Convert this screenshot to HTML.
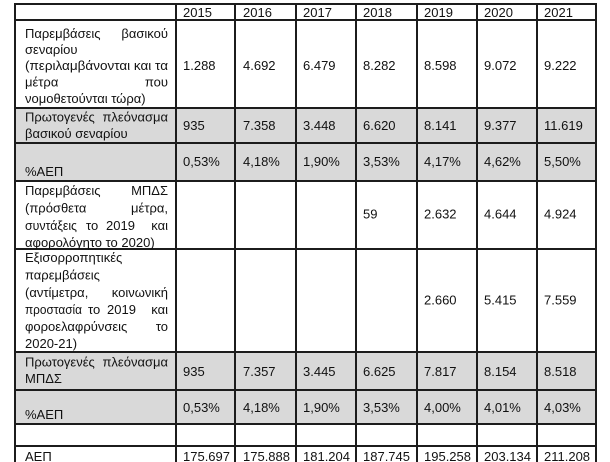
<!DOCTYPE html>
<html>
<head>
<meta charset="utf-8">
<style>
html,body{margin:0;padding:0;background:#fff;}
svg{display:block;}
text{font-family:"Liberation Sans","DejaVu Sans",sans-serif;font-size:13px;fill:#111;}
</style>
</head>
<body>
<svg width="610" height="462" viewBox="0 0 610 462" xmlns="http://www.w3.org/2000/svg">
<rect x="0" y="0" width="610" height="462" fill="#fff"/>
<!-- gray rows -->
<rect x="15" y="108" width="581" height="73" fill="#d9d9d9"/>
<rect x="15" y="352" width="581" height="72" fill="#d9d9d9"/>

<g stroke="#1c1c1c" stroke-width="2">
<line x1="15" y1="4" x2="596" y2="4"/>
<line x1="15" y1="20" x2="596" y2="20"/>
<line x1="15" y1="108" x2="596" y2="108"/>
<line x1="15" y1="143" x2="596" y2="143"/>
<line x1="15" y1="181" x2="596" y2="181"/>
<line x1="15" y1="249" x2="596" y2="249"/>
<line x1="15" y1="352" x2="596" y2="352"/>
<line x1="15" y1="390" x2="596" y2="390"/>
<line x1="15" y1="424" x2="596" y2="424"/>
<line x1="15" y1="446" x2="596" y2="446"/>
<line x1="15" y1="3" x2="15" y2="462"/>
<line x1="176" y1="3" x2="176" y2="462"/>
<line x1="235" y1="3" x2="235" y2="462"/>
<line x1="296" y1="3" x2="296" y2="462"/>
<line x1="356" y1="3" x2="356" y2="462"/>
<line x1="417" y1="3" x2="417" y2="462"/>
<line x1="477" y1="3" x2="477" y2="462"/>
<line x1="537" y1="3" x2="537" y2="462"/>
<line x1="596" y1="3" x2="596" y2="462"/>
</g>

<!-- header -->
<text x="183" y="17">2015</text>
<text x="243" y="17">2016</text>
<text x="303" y="17">2017</text>
<text x="363" y="17">2018</text>
<text x="424" y="17">2019</text>
<text x="484" y="17">2020</text>
<text x="544" y="17">2021</text>

<!-- row 1 labels -->
<text x="25" y="38">Παρεμβάσεις</text>
<text x="168" y="38" text-anchor="end">βασικού</text>
<text x="25" y="54">σεναρίου</text>
<text x="25" y="70" textLength="143" lengthAdjust="spacingAndGlyphs">(περιλαμβάνονται και τα</text>
<text x="25" y="86.5">μέτρα</text>
<text x="168" y="86.5" text-anchor="end">που</text>
<text x="25" y="103">νομοθετούνται τώρα)</text>
<text x="183" y="70">1.288</text>
<text x="243" y="70">4.692</text>
<text x="303" y="70">6.479</text>
<text x="363" y="70">8.282</text>
<text x="424" y="70">8.598</text>
<text x="484" y="70">9.072</text>
<text x="544" y="70">9.222</text>

<!-- row 2 -->
<text x="25" y="121.5">Πρωτογενές</text>
<text x="168" y="121.5" text-anchor="end">πλεόνασμα</text>
<text x="25" y="138">βασικού σεναρίου</text>
<text x="183" y="130">935</text>
<text x="243" y="130">7.358</text>
<text x="303" y="130">3.448</text>
<text x="363" y="130">6.620</text>
<text x="424" y="130">8.141</text>
<text x="484" y="130">9.377</text>
<text x="544" y="130">11.619</text>

<!-- row 3 -->
<text x="25" y="176">%ΑΕΠ</text>
<text x="183" y="166">0,53%</text>
<text x="243" y="166">4,18%</text>
<text x="303" y="166">1,90%</text>
<text x="363" y="166">3,53%</text>
<text x="424" y="166">4,17%</text>
<text x="484" y="166">4,62%</text>
<text x="544" y="166">5,50%</text>

<!-- row 4 -->
<text x="25" y="195">Παρεμβάσεις</text>
<text x="168" y="195" text-anchor="end">ΜΠΔΣ</text>
<text x="25" y="212.5">(πρόσθετα</text>
<text x="168" y="212.5" text-anchor="end">μέτρα,</text>
<text x="25" y="230" textLength="52" lengthAdjust="spacingAndGlyphs">συντάξεις</text>
<text x="86" y="230">το</text>
<text x="106" y="230">2019</text>
<text x="168" y="230" text-anchor="end">και</text>
<text x="25" y="247">αφορολόγητο το 2020)</text>
<text x="363" y="218.5">59</text>
<text x="424" y="218.5">2.632</text>
<text x="484" y="218.5">4.644</text>
<text x="544" y="218.5">4.924</text>

<!-- row 5 -->
<text x="25" y="262">Εξισορροπητικές</text>
<text x="25" y="279.5">παρεμβάσεις</text>
<text x="25" y="297">(αντίμετρα,</text>
<text x="168" y="297" text-anchor="end">κοινωνική</text>
<text x="25" y="314" textLength="57" lengthAdjust="spacingAndGlyphs">προστασία</text>
<text x="88" y="314">το</text>
<text x="107" y="314">2019</text>
<text x="168" y="314" text-anchor="end">και</text>
<text x="25" y="331">φοροελαφρύνσεις</text>
<text x="168" y="331" text-anchor="end">το</text>
<text x="25" y="348">2020-21)</text>
<text x="424" y="304.5">2.660</text>
<text x="484" y="304.5">5.415</text>
<text x="544" y="304.5">7.559</text>

<!-- row 6 -->
<text x="25" y="366.5">Πρωτογενές</text>
<text x="168" y="366.5" text-anchor="end">πλεόνασμα</text>
<text x="25" y="383">ΜΠΔΣ</text>
<text x="183" y="376">935</text>
<text x="243" y="376">7.357</text>
<text x="303" y="376">3.445</text>
<text x="363" y="376">6.625</text>
<text x="424" y="376">7.817</text>
<text x="484" y="376">8.154</text>
<text x="544" y="376">8.518</text>

<!-- row 7 -->
<text x="25" y="419">%ΑΕΠ</text>
<text x="183" y="412">0,53%</text>
<text x="243" y="412">4,18%</text>
<text x="303" y="412">1,90%</text>
<text x="363" y="412">3,53%</text>
<text x="424" y="412">4,00%</text>
<text x="484" y="412">4,01%</text>
<text x="544" y="412">4,03%</text>

<!-- row 9 -->
<text x="25" y="461">ΑΕΠ</text>
<text x="183" y="461">175.697</text>
<text x="243" y="461">175.888</text>
<text x="303" y="461">181.204</text>
<text x="363" y="461">187.745</text>
<text x="424" y="461">195.258</text>
<text x="484" y="461">203.134</text>
<text x="544" y="461">211.208</text>
</svg>
</body>
</html>
